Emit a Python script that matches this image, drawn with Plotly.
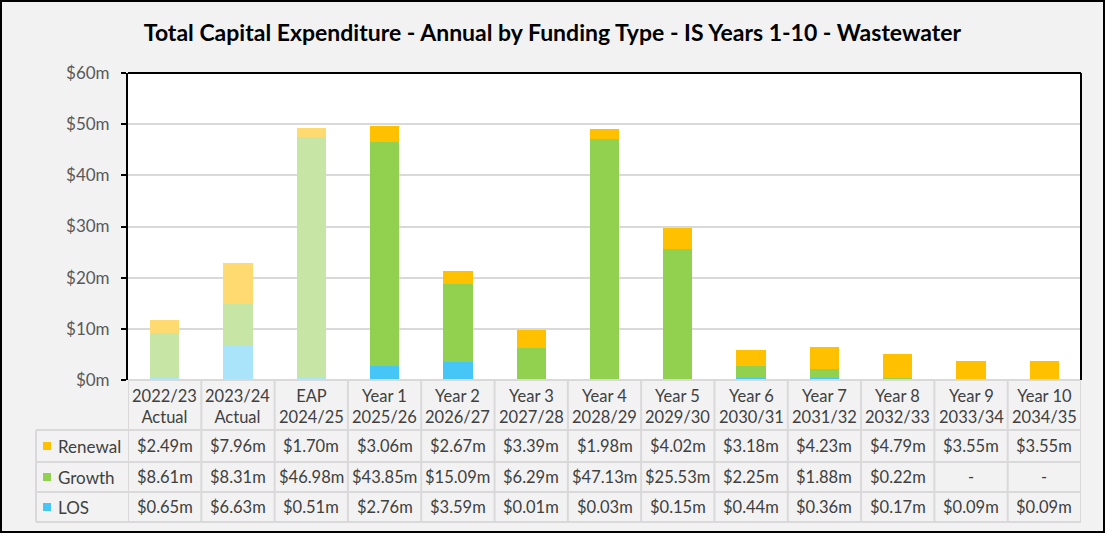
import plotly.graph_objects as go

categories = ["2022/23<br>Actual", "2023/24<br>Actual", "EAP<br>2024/25", "Year 1<br>2025/26",
              "Year 2<br>2026/27", "Year 3<br>2027/28", "Year 4<br>2028/29", "Year 5<br>2029/30",
              "Year 6<br>2030/31", "Year 7<br>2031/32", "Year 8<br>2032/33", "Year 9<br>2033/34",
              "Year 10<br>2034/35"]
renewal = [2.49, 7.96, 1.70, 3.06, 2.67, 3.39, 1.98, 4.02, 3.18, 4.23, 4.79, 3.55, 3.55]
growth = [8.61, 8.31, 46.98, 43.85, 15.09, 6.29, 47.13, 25.53, 2.25, 1.88, 0.22, 0.0, 0.0]
los = [0.65, 6.63, 0.51, 2.76, 3.59, 0.01, 0.03, 0.15, 0.44, 0.36, 0.17, 0.09, 0.09]
faded = [True, True, True] + [False] * 10
y_ticks = [0, 10, 20, 30, 40, 50, 60]

series = [
    ("LOS", los, "#45C6F6", "#A9E4FB"),
    ("Growth", growth, "#92D050", "#C7E5A5"),
    ("Renewal", renewal, "#FFC000", "#FFDA70"),
]

FONT = "Lato"
TXT = "#404040"
GRID = "#D9D9D9"

W, H = 1105, 533
L, R, T, B = 128, 24, 73, 153
PW, PH = W - L - R, H - T - B

def xp(px):
    return (px - L) / PW

def yp(py):
    return (H - B - py) / PH

n = len(categories)
xs = list(range(n))

fig = go.Figure()
for name, vals, col, fcol in series:
    fig.add_trace(go.Bar(
        x=xs, y=vals, name=name, width=0.4,
        marker=dict(color=[fcol if f else col for f in faded], line=dict(width=0)),
        showlegend=False,
    ))

shapes = []
row_lines = [430, 462, 492, 522]
for py in row_lines:
    shapes.append(dict(type="line", xref="paper", yref="paper", x0=xp(36), x1=1,
                       y0=yp(py), y1=yp(py), line=dict(color=GRID, width=2)))
shapes.append(dict(type="line", xref="paper", yref="paper", x0=0, x1=1,
                   y0=0, y1=0, line=dict(color=GRID, width=2)))
shapes.append(dict(type="line", xref="paper", yref="paper", x0=xp(36), x1=xp(36),
                   y0=yp(430), y1=yp(522), line=dict(color=GRID, width=2)))
for i in range(n + 1):
    shapes.append(dict(type="line", xref="x", yref="paper", x0=i - 0.5, x1=i - 0.5,
                       y0=0, y1=yp(522), line=dict(color=GRID, width=2)))
shapes.append(dict(type="line", xref="paper", yref="paper", x0=0, x1=1, y0=1, y1=1,
                   line=dict(color="black", width=2)))
shapes.append(dict(type="line", xref="paper", yref="paper", x0=1, x1=1, y0=0, y1=1,
                   line=dict(color="black", width=2)))
shapes.append(dict(type="rect", xref="paper", yref="paper", x0=xp(1), x1=xp(W - 1),
                   y0=yp(H - 1), y1=yp(1), line=dict(color="black", width=2)))

annotations = []
row_centers = [446, 477, 507]
table_rows = [("Renewal", renewal, "#FFC000"), ("Growth", growth, "#92D050"), ("LOS", los, "#45C6F6")]
for (name, vals, col), py in zip(table_rows, row_centers):
    shapes.append(dict(type="rect", xref="paper", yref="paper", x0=xp(43), x1=xp(51),
                       y0=yp(py + 4), y1=yp(py - 4), fillcolor=col, line=dict(width=0)))
    annotations.append(dict(xref="paper", yref="paper", x=xp(56), y=yp(py), text=name,
                            showarrow=False, xanchor="left", yanchor="middle",
                            font=dict(family=FONT, size=17, color=TXT)))
    for i, v in enumerate(vals):
        t = "-" if v == 0 else f"${v:.2f}m"
        annotations.append(dict(xref="x", yref="paper", x=i, y=yp(py), text=t,
                                showarrow=False, xanchor="center", yanchor="middle",
                                font=dict(family=FONT, size=16.5, color=TXT)))
for i, c in enumerate(categories):
    annotations.append(dict(xref="x", yref="paper", x=i, y=yp(406), text=c,
                            showarrow=False, xanchor="center", yanchor="middle",
                            font=dict(family=FONT, size=16.5, color=TXT)))

fig.update_layout(
    width=W, height=H,
    margin=dict(l=L, r=R, t=T, b=B),
    paper_bgcolor="#F2F2F2", plot_bgcolor="white",
    barmode="stack", bargap=0.6,
    title=dict(text="<b>Total Capital Expenditure - Annual by Funding Type - IS Years 1-10 - Wastewater</b>",
               x=0.5, xref="container", xanchor="center", y=1 - 33 / H, yanchor="middle",
               font=dict(family=FONT, size=23, color="black")),
    xaxis=dict(range=[-0.5, n - 0.5], showticklabels=False, showgrid=False, zeroline=False,
               showline=False, ticks=""),
    yaxis=dict(range=[0, 60], tickvals=y_ticks, ticktext=[f"${v}m" for v in y_ticks],
               showgrid=True, gridcolor=GRID, gridwidth=2, zeroline=False,
               showline=True, linecolor="black", linewidth=2,
               ticks="outside", ticklen=5, tickcolor="black", tickwidth=2,
               ticklabelstandoff=8,
               tickfont=dict(family=FONT, size=17, color="#595959")),
    shapes=shapes, annotations=annotations,
)

fig.write_html("out.html", config={"displayModeBar": False},
               post_script="document.body.style.margin='0';document.body.style.overflow='hidden';")
